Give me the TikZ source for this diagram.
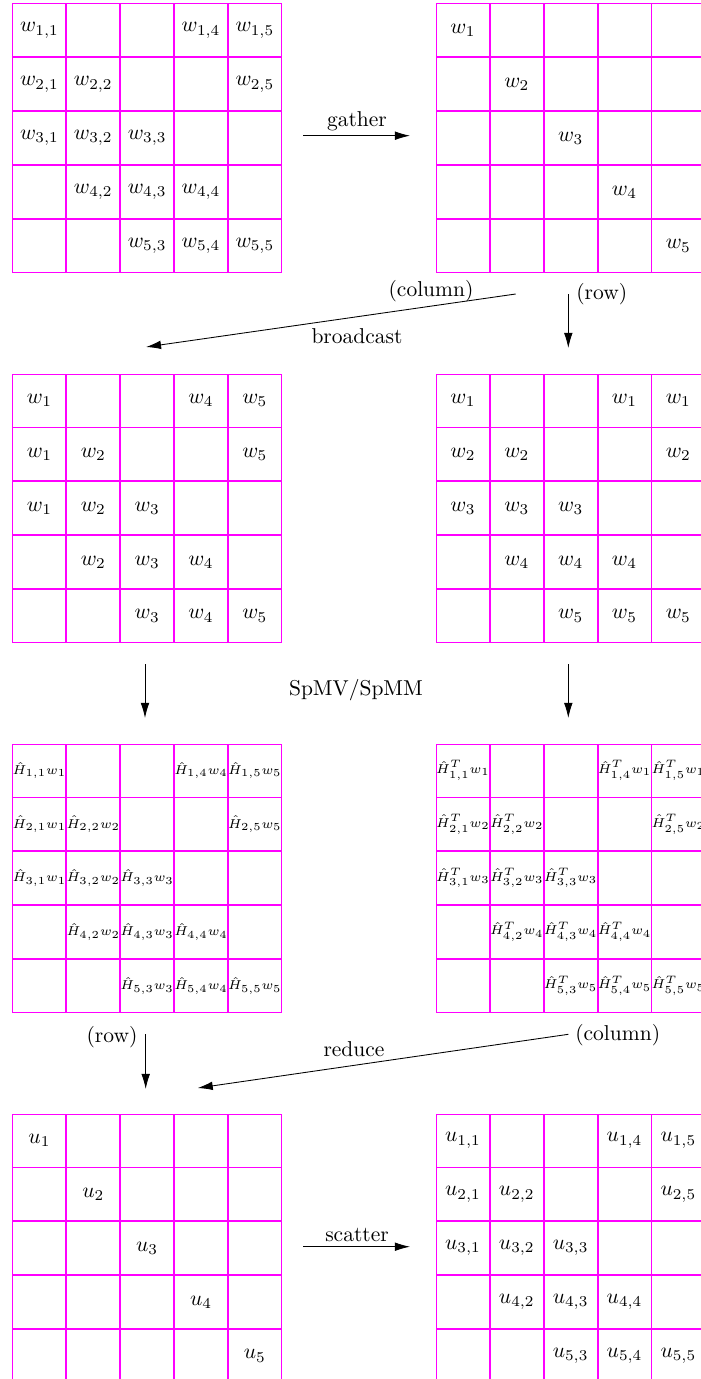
\documentclass[tikz,border=0pt]{standalone}
\usetikzlibrary{matrix,arrows.meta}
\definecolor{gridmag}{RGB}{255,0,255}
\newcommand{\cellm}[1]{\makebox[0pt]{$#1$}}
\begin{document}
\begin{tikzpicture}[x=0.4651pt,y=-0.4651pt,
  cell/.style={draw=gridmag, line width=0.4pt, minimum width=24.65pt, minimum height=24.65pt, inner sep=0pt, outer sep=0pt, anchor=center},
  smallcell/.style={cell, font=\fontsize{6}{7}\selectfont},
  grid/.style={matrix of math nodes, nodes in empty cells, anchor=north west, inner sep=0pt, outer sep=0pt, column sep=0pt, row sep=0pt},
  tgrid/.style={matrix of nodes, nodes in empty cells, anchor=north west, inner sep=0pt, outer sep=0pt, column sep=0pt, row sep=0pt},
  arr/.style={-{Latex[length=7pt,width=4pt]}, line width=0.4pt, black},
  lbl/.style={inner sep=0pt, outer sep=0pt}]
\useasboundingbox (0,0) rectangle (700,1379);

\matrix (A) at (12.5,3.5) [grid, nodes={cell}] {
w_{1,1} & & & w_{1,4} & w_{1,5} \\
w_{2,1} & w_{2,2} & & & w_{2,5} \\
w_{3,1} & w_{3,2} & w_{3,3} & & \\
 & w_{4,2} & w_{4,3} & w_{4,4} & \\
 & & w_{5,3} & w_{5,4} & w_{5,5} \\
};
\matrix (B) at (436,3.5) [grid, nodes={cell}] {
w_1 & & & & \\
 & w_2 & & & \\
 & & w_3 & & \\
 & & & w_4 & \\
 & & & & w_5 \\
};
\matrix (C) at (12.5,373.5) [grid, nodes={cell}] {
w_1 & & & w_4 & w_5 \\
w_1 & w_2 & & & w_5 \\
w_1 & w_2 & w_3 & & \\
 & w_2 & w_3 & w_4 & \\
 & & w_3 & w_4 & w_5 \\
};
\matrix (D) at (436,373.5) [grid, nodes={cell}] {
w_1 & & & w_1 & w_1 \\
w_2 & w_2 & & & w_2 \\
w_3 & w_3 & w_3 & & \\
 & w_4 & w_4 & w_4 & \\
 & & w_5 & w_5 & w_5 \\
};
\matrix (E) at (12.5,743.5) [tgrid, nodes={smallcell}] {
\cellm{\hat{H}_{1,1}w_1} & & & \cellm{\hat{H}_{1,4}w_4} & \cellm{\hat{H}_{1,5}w_5} \\
\cellm{\hat{H}_{2,1}w_1} & \cellm{\hat{H}_{2,2}w_2} & & & \cellm{\hat{H}_{2,5}w_5} \\
\cellm{\hat{H}_{3,1}w_1} & \cellm{\hat{H}_{3,2}w_2} & \cellm{\hat{H}_{3,3}w_3} & & \\
 & \cellm{\hat{H}_{4,2}w_2} & \cellm{\hat{H}_{4,3}w_3} & \cellm{\hat{H}_{4,4}w_4} & \\
 & & \cellm{\hat{H}_{5,3}w_3} & \cellm{\hat{H}_{5,4}w_4} & \cellm{\hat{H}_{5,5}w_5} \\
};
\matrix (F) at (436,743.5) [tgrid, nodes={smallcell}] {
\cellm{\hat{H}^T_{1,1}w_1} & & & \cellm{\hat{H}^T_{1,4}w_1} & \cellm{\hat{H}^T_{1,5}w_1} \\
\cellm{\hat{H}^T_{2,1}w_2} & \cellm{\hat{H}^T_{2,2}w_2} & & & \cellm{\hat{H}^T_{2,5}w_2} \\
\cellm{\hat{H}^T_{3,1}w_3} & \cellm{\hat{H}^T_{3,2}w_3} & \cellm{\hat{H}^T_{3,3}w_3} & & \\
 & \cellm{\hat{H}^T_{4,2}w_4} & \cellm{\hat{H}^T_{4,3}w_4} & \cellm{\hat{H}^T_{4,4}w_4} & \\
 & & \cellm{\hat{H}^T_{5,3}w_5} & \cellm{\hat{H}^T_{5,4}w_5} & \cellm{\hat{H}^T_{5,5}w_5} \\
};
\matrix (G) at (12.5,1113.5) [grid, nodes={cell}] {
u_1 & & & & \\
 & u_2 & & & \\
 & & u_3 & & \\
 & & & u_4 & \\
 & & & & u_5 \\
};
\matrix (H) at (436,1113.5) [grid, nodes={cell}] {
u_{1,1} & & & u_{1,4} & u_{1,5} \\
u_{2,1} & u_{2,2} & & & u_{2,5} \\
u_{3,1} & u_{3,2} & u_{3,3} & & \\
 & u_{4,2} & u_{4,3} & u_{4,4} & \\
 & & u_{5,3} & u_{5,4} & u_{5,5} \\
};

% endpoints
\coordinate (g1) at (303,135.7);
\coordinate (g2) at (410,135.7);
\coordinate (b1) at (515.7,294);
\coordinate (b2) at (146,347);
\coordinate (r1) at (568.3,294);
\coordinate (r2) at (568.3,348);
\coordinate (sl1) at (145,664);
\coordinate (sl2) at (145,718);
\coordinate (sr1) at (568.3,664);
\coordinate (sr2) at (568.3,718);
\coordinate (rr1) at (145.7,1034);
\coordinate (rr2) at (145.7,1089);
\coordinate (rc1) at (568.3,1034.3);
\coordinate (rc2) at (197.7,1088);
\coordinate (s1) at (303,1246.7);
\coordinate (s2) at (410,1246.7);

\draw[arr] (g1) -- (g2);
\draw[arr] (b1) -- (b2);
\draw[arr] (r1) -- (r2);
\draw[arr] (sl1) -- (sl2);
\draw[arr] (sr1) -- (sr2);
\draw[arr] (rr1) -- (rr2);
\draw[arr] (rc1) -- (rc2);
\draw[arr] (s1) -- (s2);

\node[lbl] (tgather) at (357,121.7) {gather};
\node[lbl] (tcol1) at (431,291) {(column)};
\node[lbl] (tbc) at (357,336.5) {broadcast};
\node[lbl] (trow1) at (601.7,294) {(row)};
\node[lbl] (tspmv) at (356,690) {SpMV/SpMM};
\node[lbl] (trow2) at (112,1037) {(row)};
\node[lbl] (tcol2) at (617.7,1035.5) {(column)};
\node[lbl] (tred) at (354,1049) {reduce};
\node[lbl] (tscat) at (357,1234.5) {scatter};
\end{tikzpicture}
\end{document}
